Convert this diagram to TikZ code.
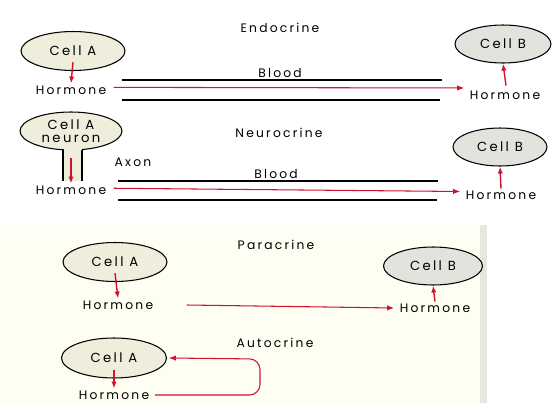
\documentclass[tikz,border=0pt]{standalone}
\usepackage{fontspec}
\setmainfont{Poppins}[LetterSpace=18]
\usetikzlibrary{arrows.meta,positioning,shapes.geometric}
\definecolor{hoRed}{HTML}{D0122E}
\definecolor{hoCellA}{HTML}{EFEDDC}
\definecolor{hoCellB}{HTML}{E3E2DD}
\definecolor{hoPale}{HTML}{FEFEF3}
\definecolor{hoShade}{HTML}{E8E7DE}
\tikzset{
  arr/.style={-{Latex[length=4pt,width=3pt]}, line width=0.8pt, draw=hoRed},
  arrthin/.style={-{Latex[length=4pt,width=3pt]}, line width=0.6pt, draw=hoRed},
  cella/.style={ellipse, draw=black, line width=0.6pt, fill=hoCellA, inner sep=0pt, font=\fontsize{7.5}{8}\selectfont, align=center},
  cellb/.style={ellipse, draw=black, line width=0.6pt, fill=hoCellB, inner sep=0pt, font=\fontsize{7.5}{8}\selectfont},
  lbl/.style={inner sep=1pt, font=\fontsize{7}{8}\selectfont},
  ttl/.style={inner sep=1pt, font=\fontsize{7}{8}\selectfont},
  blood/.style={line width=1.4pt, draw=black}
}
\begin{document}
\begin{tikzpicture}[x=0.02cm,y=-0.02cm]
  \useasboundingbox (0,0) rectangle (559,403);
  % pale page behind the lower half
  \fill[hoPale] (0,225) rectangle (480,403);
  \fill[hoShade] (480,225) rectangle (487,403);

  % Endocrine
  \node[ttl] (t1) at (280,28) {Endocrine};
  \node[cella, minimum width=2.08cm, minimum height=0.78cm] (a1) at (73,51) {Cell A};
  \node[lbl] (h1) at (71,90) {Hormone};
  \node[cellb, minimum width=1.92cm, minimum height=0.76cm] (b1) at (503,44) {Cell B};
  \node[lbl] (hb1) at (505,95) {Hormone};
  \coordinate (u1) at (122,80); \coordinate (v1) at (442,80);
  \coordinate (u2) at (122,100); \coordinate (v2) at (440,100);
  \draw[blood] (u1) -- (v1);
  \draw[blood] (u2) -- (v2);
  \node[lbl] (bl1) at (280,73) {Blood};
  \draw[arr] ([yshift=5pt]a1.south) -- (h1.north);
  \draw[arrthin] ([xshift=3pt,yshift=1.5pt]h1.east) -- ([xshift=-2pt,yshift=4pt]hb1.west);
  \draw[arr] (hb1.north) ++(1,-3) -- (b1.south);

  % Neurocrine
  \node[ttl] (t2) at (279,133) {Neurocrine};
  \node[cella, minimum width=2.04cm, minimum height=0.76cm, font=\fontsize{7.5}{7.5}\selectfont] (n2) at (71,131) {Cell A\\neuron};
  \fill[hoCellA] (n2.south) ++(-7.5,-2) rectangle ++(18,32);
  \draw[line width=0.6pt] (n2.south) ++(-8,-1) -- ++(0,31);
  \draw[line width=0.6pt] (n2.south) ++(11,-1) -- ++(0,31);
  \node[lbl] (ax) at (133,162) {Axon};
  \node[lbl] (h2) at (71,190) {Hormone};
  \node[cellb, minimum width=1.88cm, minimum height=0.76cm] (b2) at (500,147) {Cell B};
  \node[lbl] (hb2) at (501,195) {Hormone};
  \coordinate (u3) at (118,181); \coordinate (v3) at (438,181);
  \coordinate (u4) at (118,200); \coordinate (v4) at (437,200);
  \draw[blood] (u3) -- (v3);
  \draw[blood] (u4) -- (v4);
  \node[lbl] (bl2) at (276,174) {Blood};
  \draw[arr, line width=1.3pt] ([yshift=-4pt]n2.south) -- (h2.north);
  \draw[arrthin] ([xshift=3pt,yshift=1pt]h2.east) -- ([xshift=-2pt,yshift=2pt]hb2.west);
  \draw[arr] (hb2.north) -- (b2.south);

  % Paracrine
  \node[ttl] (t3) at (276,245) {Paracrine};
  \node[cella, minimum width=2.08cm, minimum height=0.78cm] (a3) at (115,262) {Cell A};
  \node[lbl] (h3) at (118,305) {Hormone};
  \node[cellb, minimum width=1.98cm, minimum height=0.76cm] (b3) at (433,266) {Cell B};
  \node[lbl] (hb3) at (435,308) {Hormone};
  \draw[arr] ([yshift=5pt]a3.south) -- (h3.north);
  \draw[arrthin] ([xshift=18pt]h3.east) -- ([xshift=-2pt]hb3.west);
  \draw[arr] (hb3.north) -- (b3.south);

  % Autocrine
  \node[ttl] (t4) at (275,343) {Autocrine};
  \node[cella, minimum width=2.1cm, minimum height=0.8cm] (a4) at (114,358) {Cell A};
  \node[lbl] (h4) at (114,395) {Hormone};
  \coordinate (lp) at (260,359);
  \draw[arr] ([yshift=5pt]a4.south) -- (h4.north);
  \draw[arrthin, rounded corners=6pt] ([xshift=2pt]h4.east) -| (lp) -- ([xshift=1pt]a4.east);
\end{tikzpicture}
\end{document}
